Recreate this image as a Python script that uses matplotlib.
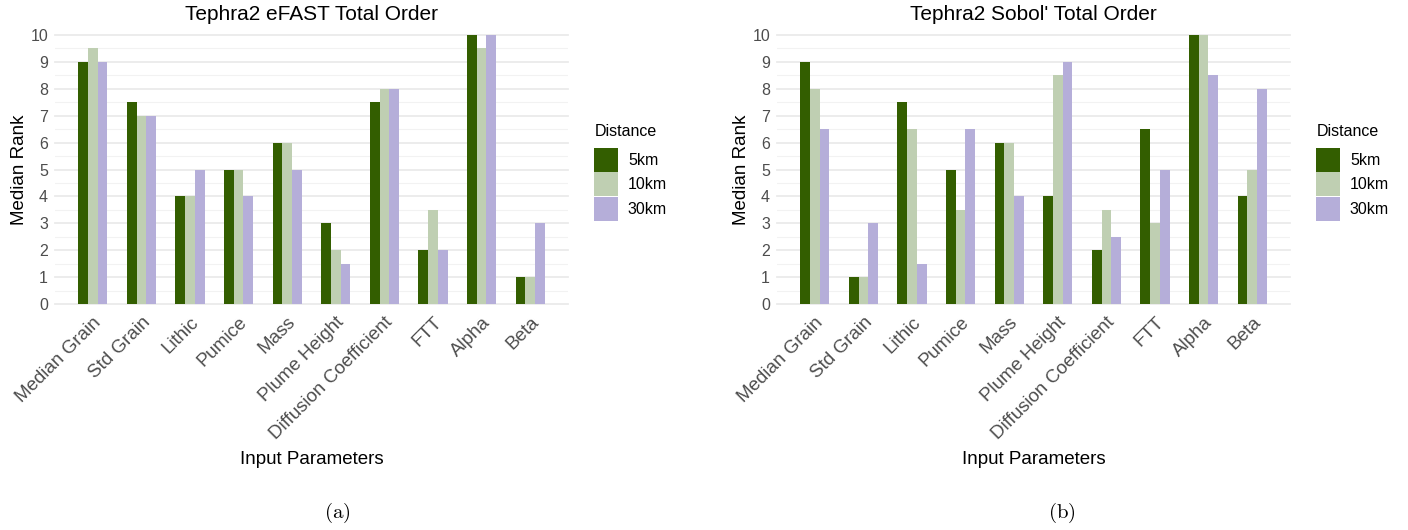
import numpy as np
import matplotlib
matplotlib.use('Agg')
import matplotlib.pyplot as plt
from matplotlib.patches import Patch
from matplotlib.ticker import MultipleLocator

plt.rcParams['font.family'] = ['Liberation Sans', 'DejaVu Sans']
plt.rcParams['mathtext.fontset'] = 'cm'

params = ['Median Grain', 'Std Grain', 'Lithic', 'Pumice', 'Mass', 'Plume Height',
          'Diffusion Coefficient', 'FTT', 'Alpha', 'Beta']
distances = ['5km', '10km', '30km']

# eFAST total order median ranks
efast_5km = [9, 7.5, 4, 5, 6, 3, 7.5, 2, 10, 1]
efast_10km = [9.5, 7, 4, 5, 6, 2, 8, 3.5, 9.5, 1]
efast_30km = [9, 7, 5, 4, 5, 1.5, 8, 2, 10, 3]

# Sobol' total order median ranks
sobol_5km = [9, 1, 7.5, 5, 6, 4, 2, 6.5, 10, 4]
sobol_10km = [8, 1, 6.5, 3.5, 6, 8.5, 3.5, 3, 10, 5]
sobol_30km = [6.5, 3, 1.5, 6.5, 4, 9, 2.5, 5, 8.5, 8]

colors = ['#335e00', '#bfcfb2', '#b5aed9']

fig = plt.figure(figsize=(14.08, 5.30), dpi=100)

panels = [
    ("Tephra2 eFAST Total Order", [efast_5km, efast_10km, efast_30km], 55, '(a)', 337),
    ("Tephra2 Sobol' Total Order", [sobol_5km, sobol_10km, sobol_30km], 777, '(b)', 1062),
]

W, H = 1408, 530
for title, series, left_px, cap, cap_x in panels:
    ax = fig.add_axes([left_px / W, (H - 304) / H, 513 / W, 269 / H])
    x = np.arange(len(params))
    width = 0.2
    for i, vals in enumerate(series):
        ax.bar(x + (i - 1) * width, vals, width, color=colors[i], zorder=3)
    ax.set_xlim(-0.78, len(params) - 0.22)
    ax.set_ylim(0, 10)
    ax.yaxis.set_major_locator(MultipleLocator(1))
    ax.yaxis.set_minor_locator(MultipleLocator(0.5))
    ax.grid(axis='y', which='major', color='#ebebeb', lw=1.3, zorder=0)
    ax.grid(axis='y', which='minor', color='#f2f2f2', lw=0.8, zorder=0)
    for gl in ax.get_ygridlines():
        gl.set_clip_on(False)
    for s in ax.spines.values():
        s.set_visible(False)
    ax.tick_params(axis='both', which='both', length=0, colors='#4d4d4d', labelsize=11.5)
    ax.tick_params(axis='y', pad=5)
    ax.tick_params(axis='x', pad=7)
    ax.set_xticks(x)
    ax.set_xticklabels(params, rotation=45, ha='right', rotation_mode='anchor',
                       fontsize=13.5, color='#4d4d4d')
    ax.set_title(title, fontsize=15, pad=11)
    ax.set_ylabel('Median Rank', fontsize=13.5, labelpad=2)
    ax.set_xlabel('Input Parameters', fontsize=13.5, labelpad=6)
    fig.text(cap_x / W, 1 - 513 / H, '$\\mathrm{' + cap + '}$', fontsize=15,
             ha='center', va='center')

    handles = [Patch(facecolor=c, edgecolor='none') for c in colors]
    leg = ax.legend(handles, distances, title='Distance', loc='upper left',
                    bbox_to_anchor=((left_px + 525) / W, 1 - 110 / H),
                    bbox_transform=fig.transFigure, frameon=False, fontsize=11.5,
                    title_fontsize=11.5, handlelength=1.5, handleheight=1.95,
                    labelspacing=0.02, handletextpad=0.6)
    leg._legend_box.align = 'left'
    leg._legend_box.sep = 6

fig.savefig('out.png', dpi=100)
